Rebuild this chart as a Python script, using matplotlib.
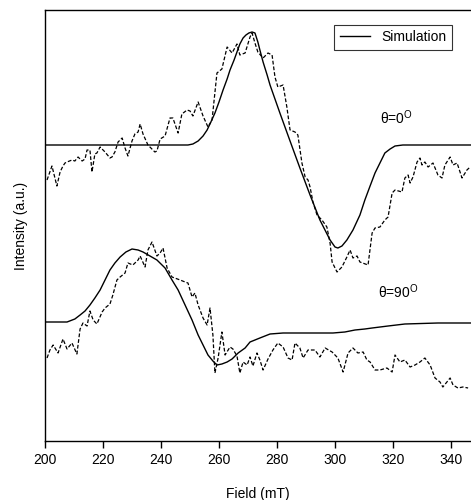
import matplotlib
matplotlib.use("Agg")
import matplotlib.pyplot as plt

plt.rcParams['font.family'] = ['Liberation Sans', 'DejaVu Sans']
plt.rcParams['mathtext.fontset'] = 'custom'
plt.rcParams['mathtext.rm'] = 'Liberation Sans'

# theta = 0 deg, experiment (dashed)
exp0_field = [200.7, 202.4, 204.1, 205.2, 206.2, 206.9, 207.6, 209.3, 210.3, 211.4,
              212.8, 213.8, 214.5, 215.5, 216.2, 217.2, 217.9, 219.0, 220.7, 222.4,
              223.1, 224.1, 225.2, 225.9, 226.6, 227.6, 228.6, 230.0, 231.0, 232.1,
              232.8, 233.8, 235.5, 237.2, 237.9, 238.6, 239.7, 241.4, 243.1, 244.1,
              245.9, 247.2, 249.0, 250.0, 251.0, 252.8, 254.5, 256.2, 257.6, 259.3,
              261.0, 262.8, 264.5, 266.2, 267.2, 269.0, 270.7, 271.4, 272.4, 273.4,
              275.2, 276.9, 278.3, 279.3, 280.3, 282.1, 283.4, 284.5, 286.2, 287.2,
              288.6, 289.7, 290.7, 291.4, 292.4, 293.8, 295.5, 297.2, 298.3, 299.0,
              300.7, 302.4, 304.1, 305.2, 306.2, 307.6, 308.6, 311.4, 312.8, 313.8,
              315.5, 317.2, 318.3, 319.7, 320.7, 323.1, 324.1, 325.2, 325.9, 326.9,
              328.3, 329.3, 330.0, 331.0, 332.1, 333.8, 335.5, 336.9, 337.9, 339.7,
              340.7, 342.1, 343.8, 345.5, 346.6]
exp0_int = [261, 275, 255, 269, 275, 278, 279, 281, 280, 284,
            280, 282, 291, 291, 269, 287, 288, 294, 289, 283,
            284, 289, 299, 301, 303, 293, 285, 300, 307, 309,
            317, 307, 296, 291, 289, 290, 302, 305, 323, 323,
            308, 327, 331, 330, 325, 339, 325, 314, 321, 368,
            372, 394, 388, 397, 386, 388, 404, 408, 398, 389,
            383, 388, 386, 364, 354, 356, 334, 311, 309, 306,
            278, 264, 261, 254, 239, 226, 221, 214, 198, 179,
            169, 174, 184, 191, 183, 185, 179, 176, 208, 213,
            214, 221, 224, 248, 251, 249, 263, 266, 258, 264,
            279, 283, 276, 279, 274, 278, 266, 263, 276, 284,
            276, 278, 263, 271, 274]

# theta = 0 deg, simulation (solid)
sim0_field = [200.0, 249.3, 251.0, 252.8, 254.5, 255.9, 257.2, 258.6, 260.0, 261.4,
              262.8, 263.8, 265.2, 266.2, 267.2, 268.3, 269.3, 270.3, 271.4, 272.4,
              273.4, 274.1, 275.2, 276.6, 277.6, 281.0, 284.5, 287.9, 291.4, 294.8,
              298.3, 300.0, 301.0, 302.4, 304.1, 306.2, 308.6, 310.3, 312.1, 313.8,
              315.5, 317.2, 319.0, 320.7, 323.4, 346.9]
sim0_int = [296, 296, 297, 300, 305, 311, 319, 328, 339, 351,
            362, 371, 381, 389, 397, 403, 406, 408, 409, 408,
            399, 391, 379, 366, 356, 328, 300, 273, 246, 221,
            201, 194, 193, 195, 201, 211, 226, 241, 255, 268,
            278, 288, 292, 295, 296, 296]

# theta = 90 deg, experiment (dashed)
exp90_field = [200.7, 201.7, 202.8, 204.5, 206.2, 207.6, 209.3, 211.0, 212.1, 213.1,
               214.5, 215.5, 216.6, 217.9, 219.7, 220.7, 222.4, 223.4, 224.8, 225.9,
               227.6, 228.6, 230.3, 232.1, 232.8, 234.5, 235.5, 236.9, 238.6, 239.7,
               240.7, 242.1, 243.8, 246.6, 248.3, 249.3, 250.7, 251.7, 252.8, 254.5,
               255.9, 256.9, 257.9, 258.6, 259.7, 261.0, 262.1, 263.8, 264.8, 266.2,
               267.2, 268.3, 269.7, 270.7, 271.7, 273.1, 274.1, 275.2, 276.9, 278.6,
               280.3, 282.1, 283.8, 285.2, 286.2, 287.9, 289.0, 290.7, 293.1, 294.8,
               296.6, 299.0, 301.0, 302.8, 304.5, 306.2, 307.9, 309.7, 311.0, 312.1,
               313.8, 315.5, 317.9, 319.7, 320.7, 322.4, 324.1, 325.9, 327.6, 329.3,
               331.0, 332.8, 334.5, 336.2, 337.2, 339.7, 340.7, 342.4, 344.1, 345.9]
exp90_int = [83, 91, 96, 88, 102, 92, 98, 87, 112, 118,
             115, 130, 121, 117, 129, 133, 137, 146, 161, 164,
             168, 178, 176, 181, 185, 174, 191, 199, 185, 188,
             193, 173, 164, 161, 159, 158, 144, 148, 136, 123,
             116, 133, 106, 68, 83, 109, 86, 94, 92, 85,
             68, 79, 76, 84, 75, 88, 81, 71, 82, 91,
             98, 94, 83, 81, 98, 93, 83, 91, 91, 84,
             93, 89, 83, 69, 88, 93, 88, 89, 81, 79,
             71, 71, 73, 69, 86, 79, 81, 74, 76, 79,
             83, 76, 63, 59, 54, 63, 56, 53, 54, 53]

# theta = 90 deg, simulation (solid)
sim90_field = [200.0, 207.6, 210.3, 212.1, 213.8, 215.5, 217.2, 219.0, 220.7, 222.4,
               224.1, 225.9, 227.9, 230.0, 232.1, 233.8, 236.2, 238.6, 241.4, 243.8,
               245.9, 248.3, 250.7, 252.8, 254.5, 256.2, 257.9, 259.3, 261.0, 262.8,
               264.5, 266.6, 269.0, 270.7, 272.4, 274.1, 277.6, 282.1, 287.9, 293.8,
               299.3, 303.4, 306.9, 310.3, 312.8, 318.3, 324.1, 335.5, 346.9]
sim90_int = [119, 119, 122, 126, 130, 136, 143, 151, 161, 171,
             178, 184, 189, 192, 191, 189, 185, 181, 173, 161,
             151, 136, 121, 106, 96, 86, 80, 76, 77, 79,
             82, 88, 93, 99, 101, 103, 107, 108, 108, 108,
             108, 109, 111, 112, 113, 115, 117, 118, 118]

xticks = [200, 220, 240, 260, 280, 300, 320, 340]

fig = plt.figure(figsize=(4.71, 5.0), dpi=100)
ax = fig.add_axes([45 / 471, 59 / 500, 426 / 471, 431 / 500])

dash = (0, (3, 1.6))
ax.plot(exp0_field, exp0_int, color='black', lw=0.9, linestyle=dash)
ax.plot(sim0_field, sim0_int, color='black', lw=1.0, label='Simulation')
ax.plot(exp90_field, exp90_int, color='black', lw=0.9, linestyle=dash)
ax.plot(sim90_field, sim90_int, color='black', lw=1.0)

ax.text(315.5, 323, r'θ=0$^{\mathrm{O}}$', fontsize=10, ha='left', va='center')
ax.text(314.8, 149, r'θ=90$^{\mathrm{O}}$', fontsize=10, ha='left', va='center')

ax.set_xlim(200, 346.9)
ax.set_ylim(0, 431)
ax.set_xticks(xticks)
ax.set_yticks([])
ax.tick_params(axis='x', direction='out', length=5, width=1, labelsize=10, pad=4)
ax.spines['right'].set_visible(False)
for s in ['left', 'top', 'bottom']:
    ax.spines[s].set_linewidth(1.0)

ax.set_xlabel('Field (mT)', fontsize=10, labelpad=14)
ax.set_ylabel('Intensity (a.u.)', fontsize=10, labelpad=12)

leg = ax.legend(loc='upper right', fontsize=10, frameon=True, fancybox=False,
                edgecolor='black', handlelength=2.2, borderaxespad=0.6,
                bbox_to_anchor=(0.975, 0.985))
leg.get_frame().set_linewidth(0.8)

fig.savefig('out.png', dpi=100)
